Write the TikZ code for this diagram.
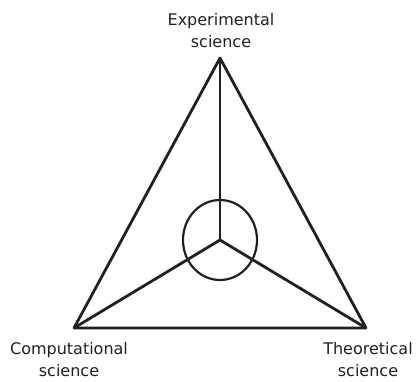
\documentclass[tikz,border=0pt]{standalone}
\usepackage{fontspec}
\setmainfont{DejaVu Sans}
\usepackage{tikz}
\usetikzlibrary{positioning,calc}
\definecolor{ink}{HTML}{231F20}
\tikzset{
  edge/.style={draw=ink, line width=2.8pt, line join=round},
  caption/.style={align=center, inner sep=0pt, text=ink,
    font=\fontsize{16}{22}\selectfont}
}

\begin{document}
\begin{tikzpicture}[x=1pt, y=-1pt]
  \useasboundingbox (0,0) rectangle (417,381);
  % corners of the triangle and the meeting point
  \coordinate (exp) at (220,58);
  \coordinate (comp) at (74,328);
  \coordinate (theo) at (366,328);
  \coordinate (mid) at (220,240);
  \draw[edge] (exp) -- (comp) -- (theo) -- cycle;
  \draw[edge] (mid) -- (exp);
  \draw[edge] (mid) -- (comp);
  \draw[edge] (mid) -- (theo);
  \draw[edge, line width=2.2pt] (mid) ellipse [x radius=37, y radius=40];
  % labels
  \node[caption] (explabel) at (221,31) {Experimental\\science};
  \node[caption] (complabel) at (69,360) {Computational\\science};
  \node[caption] (theolabel) at (368,360) {Theoretical\\science};
\end{tikzpicture}
\end{document}
